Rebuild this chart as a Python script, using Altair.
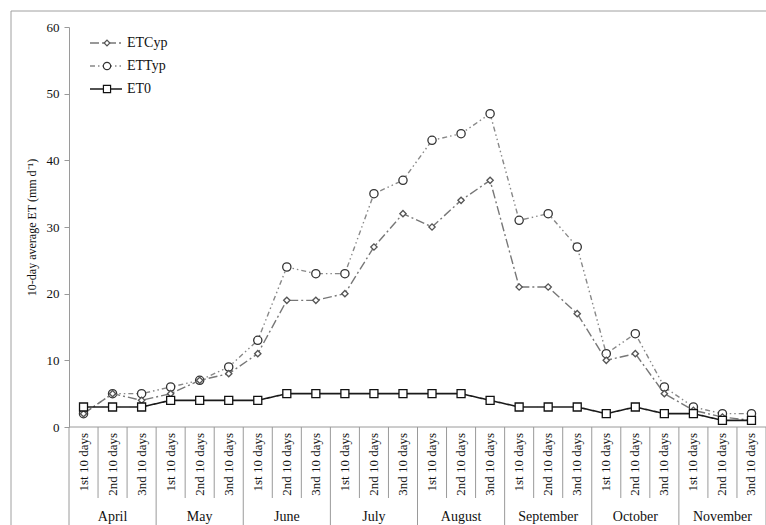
import altair as alt
import pandas as pd

# --- data -------------------------------------------------------------
months = ["April", "May", "June", "July", "August", "September", "October", "November"]
periods = ["1st 10 days", "2nd 10 days", "3nd 10 days"]

etcyp = [2, 5, 4, 5, 7, 8, 11, 19, 19, 20, 27, 32, 30, 34, 37, 21, 21, 17, 10, 11, 5, 2.5, 1.5, 1]
ettyp = [2, 5, 5, 6, 7, 9, 13, 24, 23, 23, 35, 37, 43, 44, 47, 31, 32, 27, 11, 14, 6, 3, 2, 2]
et0 = [3, 3, 3, 4, 4, 4, 4, 5, 5, 5, 5, 5, 5, 5, 4, 3, 3, 3, 2, 3, 2, 2, 1, 1]

series_names = ["ETCyp", "ETTyp", "ET0"]
series_values = [etcyp, ettyp, et0]

# --- styling ----------------------------------------------------------
FONT = "Liberation Serif"
W, H = 697, 400
GRID = "#9a9a9a"

styles = {
    "ETCyp": dict(line="#777777", dash=[9, 3, 2, 3], width=1.4, shape="diamond", size=40, edge="#555555"),
    "ETTyp": dict(line="#888888", dash=[5, 3, 1.5, 3, 1.5, 3], width=1.4, shape="circle", size=68, edge="#333333"),
    "ET0": dict(line="#1a1a1a", dash=[1, 0], width=1.6, shape="square", size=64, edge="#111111"),
}

# --- tables -----------------------------------------------------------
cats = pd.DataFrame(
    [{"idx": m * 3 + p, "month": months[m], "period": periods[p]}
     for m in range(len(months)) for p in range(len(periods))]
)
long = pd.concat(
    [cats.assign(series=name, value=vals) for name, vals in zip(series_names, series_values)],
    ignore_index=True,
)
month_centres = cats.groupby("month", sort=False)["idx"].mean().reset_index()
sub_seps = pd.DataFrame({"pos": [i + 0.5 for i in range(len(cats) - 1) if i % 3 != 2]})
month_seps = pd.DataFrame({"pos": [m * 3 - 0.5 for m in range(len(months) + 1)]})

x_scale = alt.Scale(domain=[-0.5, len(cats) - 0.5], nice=False, zero=False)
y_scale = alt.Scale(domain=[0, 60], nice=False)

x_enc = alt.X("idx:Q", scale=x_scale, axis=None)
y_enc = alt.Y(
    "value:Q",
    scale=y_scale,
    axis=alt.Axis(
        values=[0, 10, 20, 30, 40, 50, 60],
        title="10-day average ET (mm d⁻¹)",
        titleFont=FONT, titleFontSize=12, titleFontWeight="normal", titleColor="#111111",
        titlePadding=8,
        labelFont=FONT, labelFontSize=13, labelColor="#111111", labelPadding=5,
        tickSize=5, tickColor=GRID, domainColor=GRID, grid=False,
    ),
)

layers = []

# series lines + markers
for name in ["ETTyp", "ETCyp", "ET0"]:
    st = styles[name]
    d = long[long["series"] == name]
    base = alt.Chart(d).encode(x=x_enc, y=y_enc)
    layers.append(base.mark_line(color=st["line"], strokeDash=st["dash"], strokeWidth=st["width"]))
    layers.append(base.mark_point(shape=st["shape"], size=st["size"], filled=True, fill="white",
                                  stroke=st["edge"], strokeWidth=1.3, opacity=1))

# x baseline
layers.append(alt.Chart(cats.head(1)).mark_rule(color=GRID, strokeWidth=1).encode(
    x=alt.value(0), x2=alt.value(W), y=alt.value(H)))

# category separators
layers.append(alt.Chart(sub_seps).mark_rule(color=GRID, strokeWidth=1).encode(
    x=alt.X("pos:Q", scale=x_scale, axis=None), y=alt.value(H), y2=alt.value(H + 71)))
layers.append(alt.Chart(month_seps).mark_rule(color=GRID, strokeWidth=1).encode(
    x=alt.X("pos:Q", scale=x_scale, axis=None), y=alt.value(H), y2=alt.value(H + 110)))

# rotated period labels
layers.append(alt.Chart(cats).mark_text(
    angle=270, align="right", baseline="middle", font=FONT, fontSize=13, color="#111111"
).encode(x=x_enc, y=alt.value(H + 6), text="period:N"))

# month labels
layers.append(alt.Chart(month_centres).mark_text(
    align="center", baseline="middle", font=FONT, fontSize=14, color="#111111"
).encode(x=x_enc, y=alt.value(H + 90), text="month:N"))

# legend, top-left inside the plot
legend_rows = pd.DataFrame({"series": series_names})
for i, name in enumerate(series_names):
    st = styles[name]
    row = legend_rows[legend_rows["series"] == name]
    ly = 16 + i * 23
    layers.append(alt.Chart(row).mark_rule(
        color=st["line"], strokeDash=st["dash"], strokeWidth=st["width"]
    ).encode(x=alt.value(21), x2=alt.value(53), y=alt.value(ly)))
    layers.append(alt.Chart(row).mark_point(
        shape=st["shape"], size=st["size"] * 0.8, filled=True, fill="white",
        stroke=st["edge"], strokeWidth=1.2, opacity=1
    ).encode(x=alt.value(38), y=alt.value(ly)))
    layers.append(alt.Chart(row).mark_text(
        align="left", baseline="middle", font=FONT, fontSize=14, color="#111111"
    ).encode(x=alt.value(58), y=alt.value(ly), text="series:N"))

# outer frame
layers.append(alt.Chart(cats.head(1)).mark_rect(
    fill=None, stroke="#a0a0a0", strokeWidth=1
).encode(x=alt.value(-58), x2=alt.value(W + 40), y=alt.value(-16), y2=alt.value(H + 150)))

chart = alt.layer(*layers).properties(
    width=W,
    height=H,
    padding={"left": 69, "top": 27, "right": 0, "bottom": 98},
    autosize=alt.AutoSizeParams(type="none"),
    background="white",
).configure_view(stroke=None)

chart.save("out.html", embed_options={"renderer": "svg", "actions": False})
